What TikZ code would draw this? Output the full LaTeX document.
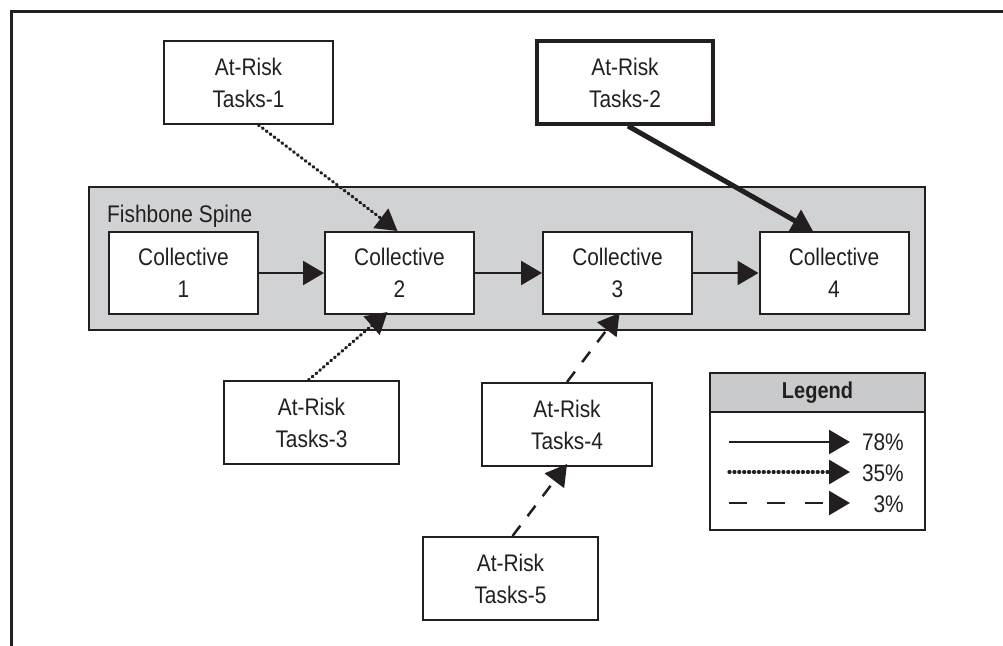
\documentclass[tikz,border=0pt]{standalone}
\usepackage{fontspec}
\setmainfont{Liberation Sans}[FakeStretch=0.87]
\usetikzlibrary{arrows.meta,calc}

\definecolor{ink}{RGB}{35,31,32}
\definecolor{spinegray}{RGB}{209,210,212}
\definecolor{headgray}{RGB}{201,202,204}

\tikzset{
  lbl/.style={font=\fontsize{24}{32}\selectfont, text=ink},
  taskbox/.style={lbl, draw=ink, line width=2pt, fill=white, align=center,
    minimum width=172pt, minimum height=83pt, inner sep=0pt, text depth=-3pt},
  collbox/.style={taskbox, minimum width=149pt, minimum height=82pt},
  tip/.style={-{Triangle[length=21pt,width=24pt]}},
  solidlink/.style={tip, draw=ink, line width=2.5pt},
  heavylink/.style={tip, draw=ink, line width=5pt},
  dotlink/.style={tip, draw=ink, line width=3.2pt, line cap=round,
    dash pattern=on 1pt off 3.9pt},
  dashlink/.style={tip, draw=ink, line width=2.5pt,
    dash pattern=on 13pt off 12pt},
  legdash/.style={tip, draw=ink, line width=2.5pt,
    dash pattern=on 18pt off 20pt},
}

\begin{document}
\begin{tikzpicture}[x=1pt,y=-1pt]
  \useasboundingbox (0,0) rectangle (1003,645);
  \clip (0,0) rectangle (1003,645);

  % outer frame (top and left edges)
  \draw[ink, line width=3pt] (11,660) -- (11,11) -- (1020,11);

  % fishbone spine panel
  \draw[ink, line width=2pt, fill=spinegray] (89,187) rectangle (925,330);
  \node[lbl, anchor=base west, inner sep=0pt] (spinelabel) at (107,222) {Fishbone Spine};

  % spine stages
  \node[collbox] (c1) at (183.5,273) {Collective\\1};
  \node[collbox] (c2) at (399.5,273) {Collective\\2};
  \node[collbox] (c3) at (617.5,273) {Collective\\3};
  \node[collbox] (c4) at (834,273)   {Collective\\4};

  % at-risk task groups
  \node[taskbox, minimum width=169pt] (t1) at (248.5,82.5) {At-Risk\\Tasks-1};
  \node[taskbox, minimum width=176pt, line width=4pt] (t2) at (625,82.5) {At-Risk\\Tasks-2};
  \node[taskbox, minimum width=175pt] (t3) at (311.5,422.5) {At-Risk\\Tasks-3};
  \node[taskbox, minimum width=170pt] (t4) at (567,424.5) {At-Risk\\Tasks-4};
  \node[taskbox, minimum width=175pt] (t5) at (510.5,578.5) {At-Risk\\Tasks-5};

  % spine flow
  \draw[solidlink] (c1) -- (c2);
  \draw[solidlink] (c2) -- (c3);
  \draw[solidlink] (c3) -- (c4);

  % risk links
  \draw[dotlink]   ([xshift=10pt]t1.south) -- ([xshift=-2pt]c2.north);
  \draw[heavylink] ([xshift=3pt]t2.south)  -- ([xshift=-21pt]c4.north);
  \draw[dotlink]   ([xshift=-3pt]t3.north) -- ([xshift=-12pt,yshift=3pt]c2.south);
  \draw[dashlink]  (t4.north) -- ([xshift=2pt,yshift=2pt]c3.south);
  \draw[dashlink]  ([xshift=2pt]t5.north) -- ([yshift=3pt]t4.south);

  % legend
  \draw[ink, line width=2pt, fill=white] (710,373) rectangle (925,530);
  \draw[ink, line width=2pt, fill=headgray] (710,373) rectangle (925,412);
  \node[lbl, font=\fontsize{23}{26}\selectfont\bfseries] (legtitle) at (817.5,393) {Legend};

  \coordinate (l1a) at (729,442); \coordinate (l1b) at (850,442);
  \coordinate (l2a) at (729,472); \coordinate (l2b) at (850,472);
  \coordinate (l3a) at (729,503); \coordinate (l3b) at (850,503);
  \draw[solidlink] (l1a) -- (l1b);
  \draw[dotlink]   (l2a) -- (l2b);
  \draw[legdash]   (l3a) -- (l3b);
  \node[lbl, anchor=base east, inner sep=0pt] (p1) at (904,450) {78\%};
  \node[lbl, anchor=base east, inner sep=0pt] (p2) at (904,481) {35\%};
  \node[lbl, anchor=base east, inner sep=0pt] (p3) at (904,512) {3\%};
\end{tikzpicture}
\end{document}
